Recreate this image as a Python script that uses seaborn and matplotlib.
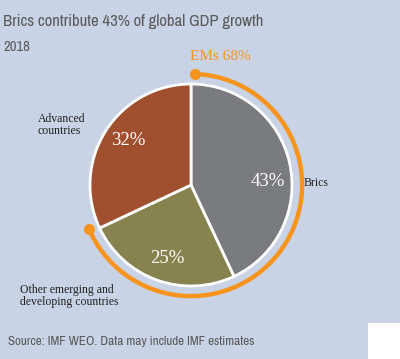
import matplotlib
matplotlib.use('Agg')
import matplotlib.pyplot as plt
import seaborn as sns
import numpy as np
from matplotlib.patches import Arc, Rectangle
from matplotlib import font_manager

# data
segments = ['Brics', 'Other emerging and\ndeveloping countries', 'Advanced\ncountries']
shares = [43, 25, 32]
share_labels = ['43%', '25%', '32%']
em_segments = ['Brics', 'Other emerging and\ndeveloping countries']
em_label = 'EMs 68%'

BG = '#c8d3e5'
colors = ['#7a7b7f', '#87834f', '#a0502e']
ORANGE = '#f7941d'
GREY_TXT = '#5a5a5a'

sns.set_theme(style='white')
plt.rcParams['font.family'] = ['Liberation Serif', 'DejaVu Serif']

# pick a condensed sans if one is installed
narrow = [f.name for f in font_manager.fontManager.ttflist
          if 'ondensed' in f.name or 'Narrow' in f.name or f.stretch in ('condensed', 'semi-condensed')]
NARROW = (sorted(set(narrow))[:1] or []) + ['DejaVu Sans']

W, H = 400, 359
fig = plt.figure(figsize=(W / 100, H / 100), dpi=100, facecolor=BG)
ax = fig.add_axes([0, 0, 1, 1])
ax.set_facecolor(BG)

wedges, _ = ax.pie(shares, colors=colors, startangle=90, counterclock=False,
                   wedgeprops=dict(edgecolor='white', linewidth=2))

# pixel layout: pie centre and radius
cx, cy, R = 191, 174, 101
ax.set_xlim(-cx / R, (W - cx) / R)
ax.set_ylim(-cy / R, (H - cy) / R)
ax.set_aspect('auto')
ax.axis('off')

# orange arc around emerging markets
em_total = sum(s for seg, s in zip(segments, shares) if seg in em_segments)
r_arc = 1.1
t2 = 90 - 2
t1 = 90 - em_total / 100 * 360 - 2
ax.add_patch(Arc((0, 0), 2 * r_arc, 2 * r_arc, theta1=t1, theta2=t2,
                 color=ORANGE, lw=3.2))
ends = np.radians([t1, t2])
ax.plot(r_arc * np.cos(ends), r_arc * np.sin(ends), 'o', color=ORANGE, ms=7)
ax.text(0.29, 1.27, em_label, color=ORANGE, fontsize=11, ha='center', va='center')

# percentage labels
pct_pos = [(0.76, 0.03), (-0.23, -0.73), (-0.62, 0.44)]
for (x, y), lab in zip(pct_pos, share_labels):
    ax.text(x, y, lab, color='white', fontsize=13.5, ha='center', va='center')

# segment labels
seg_pos = [(1.11, 0.02), (-1.69, -1.10), (-1.515, 0.59)]
for (x, y), lab in zip(seg_pos, segments):
    ax.text(x, y, lab, color='#222222', fontsize=8.5, ha='left', va='center',
            linespacing=1.0)

fig.text(3 / W, 1 - 26 / H, 'Brics contribute 43% of global GDP growth',
         family=NARROW, fontstretch='condensed', fontsize=12, color=GREY_TXT, va='baseline')
fig.text(3 / W, 1 - 51 / H, '2018', family=NARROW, fontstretch='condensed', fontsize=10.5,
         color=GREY_TXT, va='baseline')
fig.text(8 / W, 1 - 345 / H, 'Source: IMF WEO. Data may include IMF estimates',
         family=NARROW, fontstretch='condensed', fontsize=9.4, color=GREY_TXT, va='baseline')

fig.add_artist(Rectangle((368 / W, 0), 32 / W, 36 / H, transform=fig.transFigure,
                         facecolor='white', edgecolor='none'))

fig.savefig('out.png', dpi=100, facecolor=BG)
